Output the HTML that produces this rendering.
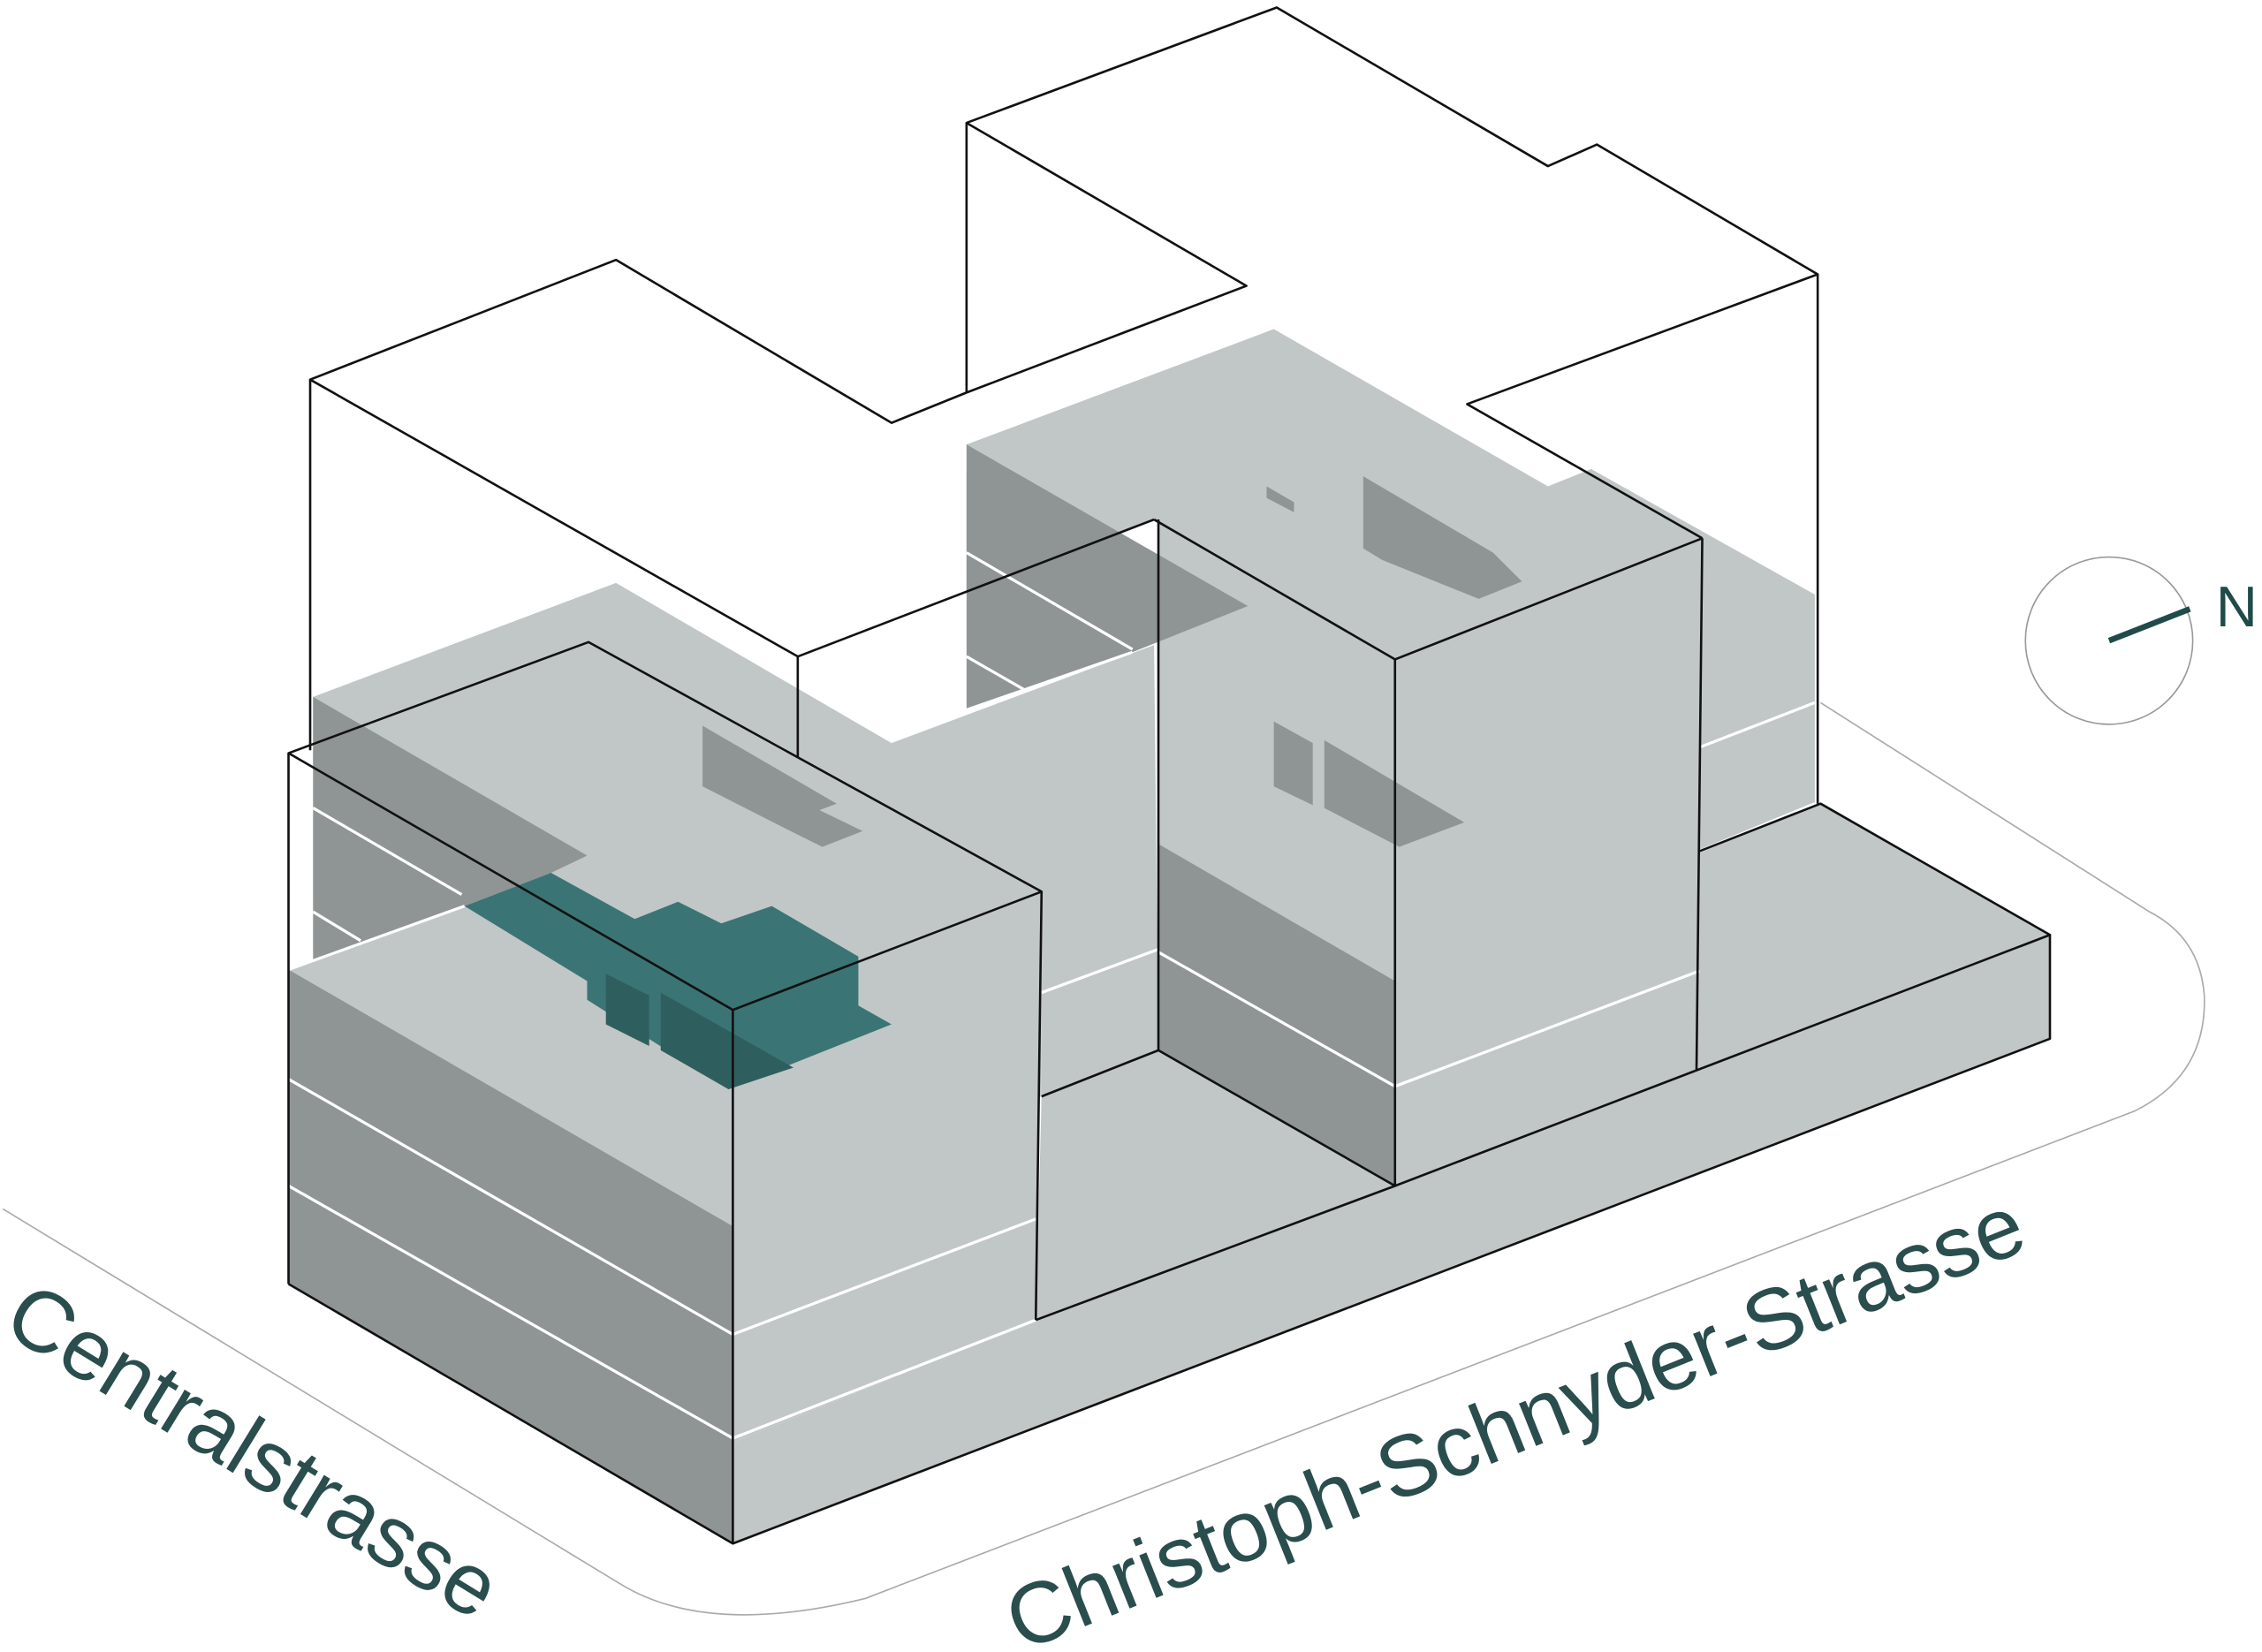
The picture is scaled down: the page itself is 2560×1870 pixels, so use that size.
<!DOCTYPE html>
<html><head><meta charset="utf-8"><style>
html,body{margin:0;padding:0;background:#fff;}
svg{display:block;}
</style></head><body>
<svg width="2560" height="1870" viewBox="0 0 1568 1145" xmlns="http://www.w3.org/2000/svg">
<rect width="1568" height="1145" fill="#fff"/>
<!-- street outline -->
<path d="M2,838 L430,1098 Q490,1135 600,1108 L1480,770 Q1530,745 1528,690 Q1525,650 1490,632 L1262,487" fill="none" stroke="#aaa" stroke-width="1"/>
<!-- compass -->
<circle cx="1462" cy="444" r="58" fill="none" stroke="#999" stroke-width="1"/>
<line x1="1462" y1="444" x2="1518" y2="422" stroke="#214a4a" stroke-width="4"/>
<text x="1536" y="434" font-family="Liberation Sans, sans-serif" font-size="40" fill="#214a4a">N</text>
<!-- labels -->
<text transform="translate(0,922) rotate(31.5)" font-family="Liberation Sans, sans-serif" font-size="60" fill="#2a4d4d">Centralstrasse</text>
<text transform="translate(708,1145) rotate(-21.8)" font-family="Liberation Sans, sans-serif" font-size="60" fill="#2a4d4d">Christoph-Schnyder-Strasse</text>

<g stroke-linejoin="round">
<!-- light fills -->
<polygon points="670,308 883,228 1073,337 1103,325 1258,412 1258,557 1178,590 1178,373 967,457 800,360 670,410" fill="#c1c7c6"/>
<polygon points="217,483 427,404 618,515 800,447 803,728 722,760 722,620 508,700 200,522 217,522" fill="#c1c7c6"/>
<polygon points="508,1000 718,915 967,822 1178,742 1178,590 1262,557 1421,648 1421,720 508,1070" fill="#c1c7c6"/>
<polygon points="722,760 803,728 967,822 718,915" fill="#c1c7c6"/>
<polygon points="803,360 967,457 967,822 803,728" fill="#c1c7c6"/>
<polygon points="967,457 1180,373 1178,742 967,822" fill="#c1c7c6"/>
<polygon points="508,700 722,618 718,915 508,1000" fill="#c1c7c6"/>
<!-- white strip left of back mass inside front-left block -->
<polygon points="200,522 217,522 217,668 200,672" fill="#fff"/>

<!-- back dark faces -->
<polygon points="670,308 865,420 785,452 670,492" fill="#8f9594"/>
<polygon points="217,483 407,593 382,605 322,628 217,665" fill="#8f9594"/>

<!-- small dark marks -->
<polygon points="487,503 580,557 540,572 487,545" fill="#8f9594"/>
<polygon points="540,572 570,587 598,576 565,560" fill="#8f9594"/>
<polygon points="945,330 1035,383 1055,403 1025,415 958,388 945,380" fill="#8f9594"/>
<polygon points="878,337 897,348 897,355 878,345" fill="#8f9594"/>
<polygon points="883,500 910,515 910,558 883,545" fill="#8f9594"/>
<polygon points="918,513 1015,570 970,587 918,560" fill="#8f9594"/>
<polygon points="450,756 458,761 450,764" fill="#8f9594"/>

<!-- front-right lower dark -->
<polygon points="803,585 967,680 967,822 803,728" fill="#8f9594"/>

<!-- front-left mass -->
<polygon points="200,672 322,628 595,663 722,618 722,760 508,850" fill="#c1c7c6"/>
<polygon points="200,672 508,850 508,1070 200,890" fill="#8f9594"/>

<!-- teal -->
<polygon points="322,628 382,605 440,637 470,625 500,640 535,628 595,663 595,697 618,710 505,755 407,693 407,680" fill="#3b7474"/>
<polygon points="420,675 450,690 450,725 420,710" fill="#2f5e5e"/>
<polygon points="458,688 550,740 505,755 458,728" fill="#2f5e5e"/>

<!-- white floor lines -->
<g stroke="#fff" stroke-width="2" fill="none">
<polyline points="200,672 322,628"/>
<polyline points="200,748 508,925 718,845"/>
<polyline points="200,822 508,997 718,915"/>
<polyline points="217,560 320,620"/>
<polyline points="217,632 250,652"/>
<polyline points="670,383 785,450"/>
<polyline points="670,455 710,478"/>
<polyline points="670,492 785,452"/>
<polyline points="722,688 803,658"/>
<polyline points="803,660 967,753 1178,673"/>
<polyline points="1178,518 1258,487"/>
<polyline points="1178,590 1258,557"/>
</g>

<!-- black outlines -->
<g stroke="#111" stroke-width="1.6" fill="none">
<polyline points="215,520 215,263 427,180 618,293 670,272"/>
<polyline points="215,263 553,455 553,525"/>
<polyline points="553,455 800,360"/>
<polyline points="670,272 670,85 885,5 1073,115 1107,100 1260,190 1260,557"/>
<polyline points="670,85 864,198 670,272"/>
<polyline points="1260,190 1017,280 1180,373"/>
<polyline points="800,360 967,457 1180,373"/>
<polyline points="803,360 803,728 967,822 967,457"/>
<polyline points="1180,373 1176,742"/>
<polyline points="200,890 200,522 408,445 722,618 718,915"/>
<polyline points="200,522 508,700 722,618"/>
<polyline points="508,700 508,1070 200,890"/>
<polyline points="718,915 967,822 1421,648 1262,557 1178,590"/>
<polyline points="1421,648 1421,720 508,1070"/>
<polyline points="722,760 803,728"/>
</g>
</g>
</svg>
</body></html>
